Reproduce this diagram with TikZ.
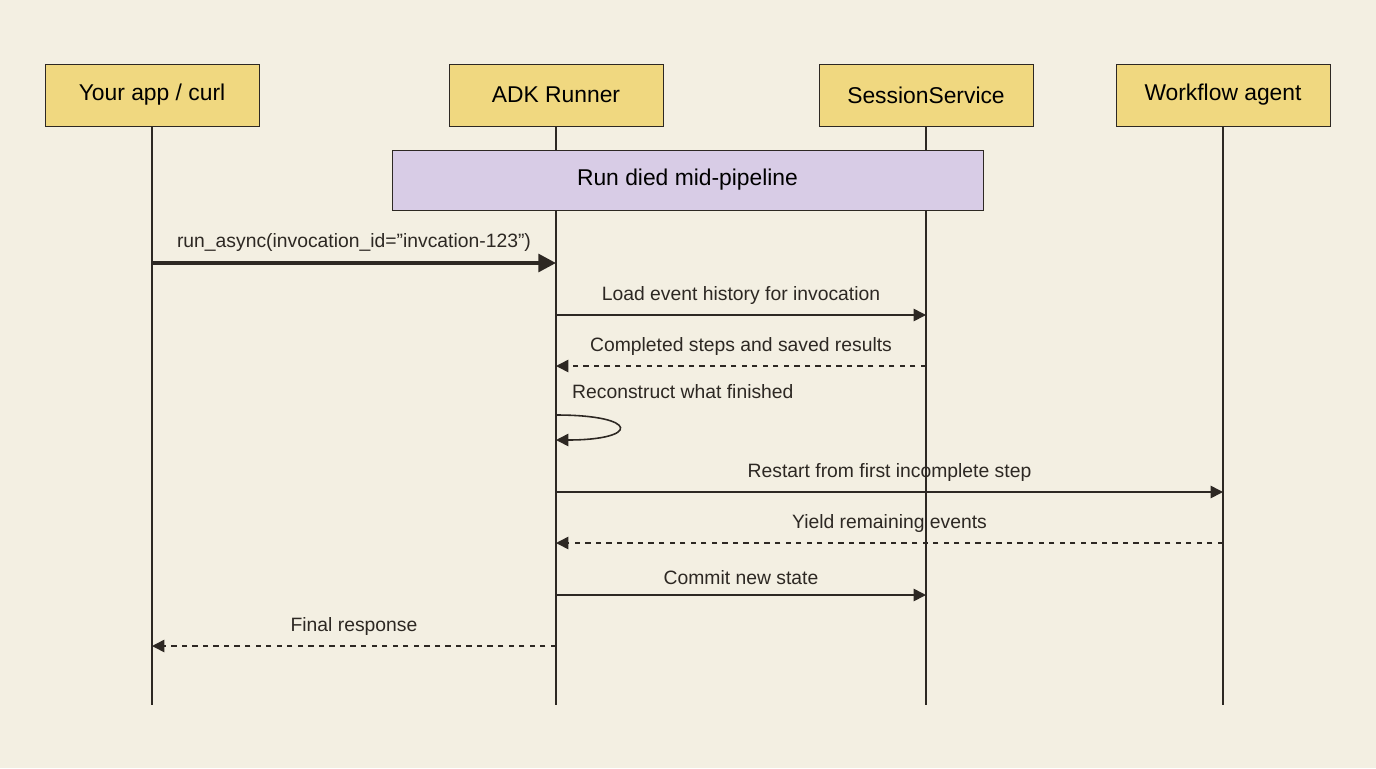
\documentclass[tikz,border=0pt]{standalone}
\usepackage{fontspec}
\setmainfont{Liberation Sans}
\usetikzlibrary{arrows.meta}
\definecolor{PaperBg}{RGB}{243, 239, 226}
\definecolor{ActorYellow}{RGB}{240, 216, 128}
\definecolor{NoteLilac}{RGB}{216, 204, 230}
\definecolor{InkDark}{RGB}{45, 40, 35}
\begin{document}
\begin{tikzpicture}[x=0.02cm, y=-0.02cm,
        actor/.style={draw=InkDark, fill=ActorYellow, minimum width=4.28cm,
                      minimum height=1.24cm, font=\fontsize{13}{15}\selectfont},
        life/.style={InkDark, line width=0.8pt},
        msg/.style={-{Triangle[length=7pt, width=7pt]}, InkDark, line width=0.9pt},
        reply/.style={msg, dashed},
        lbl/.style={font=\fontsize{11}{13}\selectfont, InkDark, above=2pt}
    ]
        \fill[PaperBg] (0,0) rectangle (1376,768);

        \node[actor] (app) at (152,95) {Your app / curl};
        \node[actor] (runner) at (556,95) {ADK Runner};
        \node[actor] (sess) at (926,95) {SessionService};
        \node[actor] (flow) at (1223,95) {Workflow agent};

        \coordinate (appEnd) at (152,705);
        \coordinate (runnerEnd) at (556,705);
        \coordinate (sessEnd) at (926,705);
        \coordinate (flowEnd) at (1223,705);
        \draw[life] (app) -- (appEnd);
        \draw[life] (runner) -- (runnerEnd);
        \draw[life] (sess) -- (sessEnd);
        \draw[life] (flow) -- (flowEnd);

        \node[draw=InkDark, fill=NoteLilac, minimum width=11.82cm, minimum height=1.2cm,
              font=\fontsize{13}{15}\selectfont] (note) at (687.5,180) {Run died mid-pipeline};

        % messages
        \coordinate (a1) at (152,263); \coordinate (r1) at (556,263);
        \draw[msg, line width=2.2pt, -{Triangle[length=10pt, width=10pt]}] (a1) -- (r1)
            node[lbl, midway] {run\_async(invocation\_id=”invcation-123”)};

        \coordinate (r2) at (556,315); \coordinate (s2) at (926,315);
        \draw[msg] (r2) -- (s2) node[lbl, midway] {Load event history for invocation};

        \coordinate (s3) at (926,366); \coordinate (r3) at (556,366);
        \draw[reply] (s3) -- (r3) node[lbl, midway] {Completed steps and saved results};

        \coordinate (r4) at (556,415); \coordinate (r4b) at (556,440);
        \draw[msg] (r4) .. controls (640,415) and (640,440) .. (r4b);
        \node[lbl, anchor=south west] (self) at (566,408) {Reconstruct what finished};

        \coordinate (r5) at (556,492); \coordinate (f5) at (1223,492);
        \draw[msg] (r5) -- (f5) node[lbl, midway] {Restart from first incomplete step};

        \coordinate (f6) at (1223,543); \coordinate (r6) at (556,543);
        \draw[reply] (f6) -- (r6) node[lbl, midway] {Yield remaining events};

        \coordinate (r7) at (556,595); \coordinate (s7) at (926,595);
        \draw[msg] (r7) -- (s7) node[lbl, midway] {Commit new state};

        \coordinate (r8) at (556,646); \coordinate (a8) at (152,646);
        \draw[reply] (r8) -- (a8) node[lbl, midway] {Final response};
    \end{tikzpicture}
\end{document}
